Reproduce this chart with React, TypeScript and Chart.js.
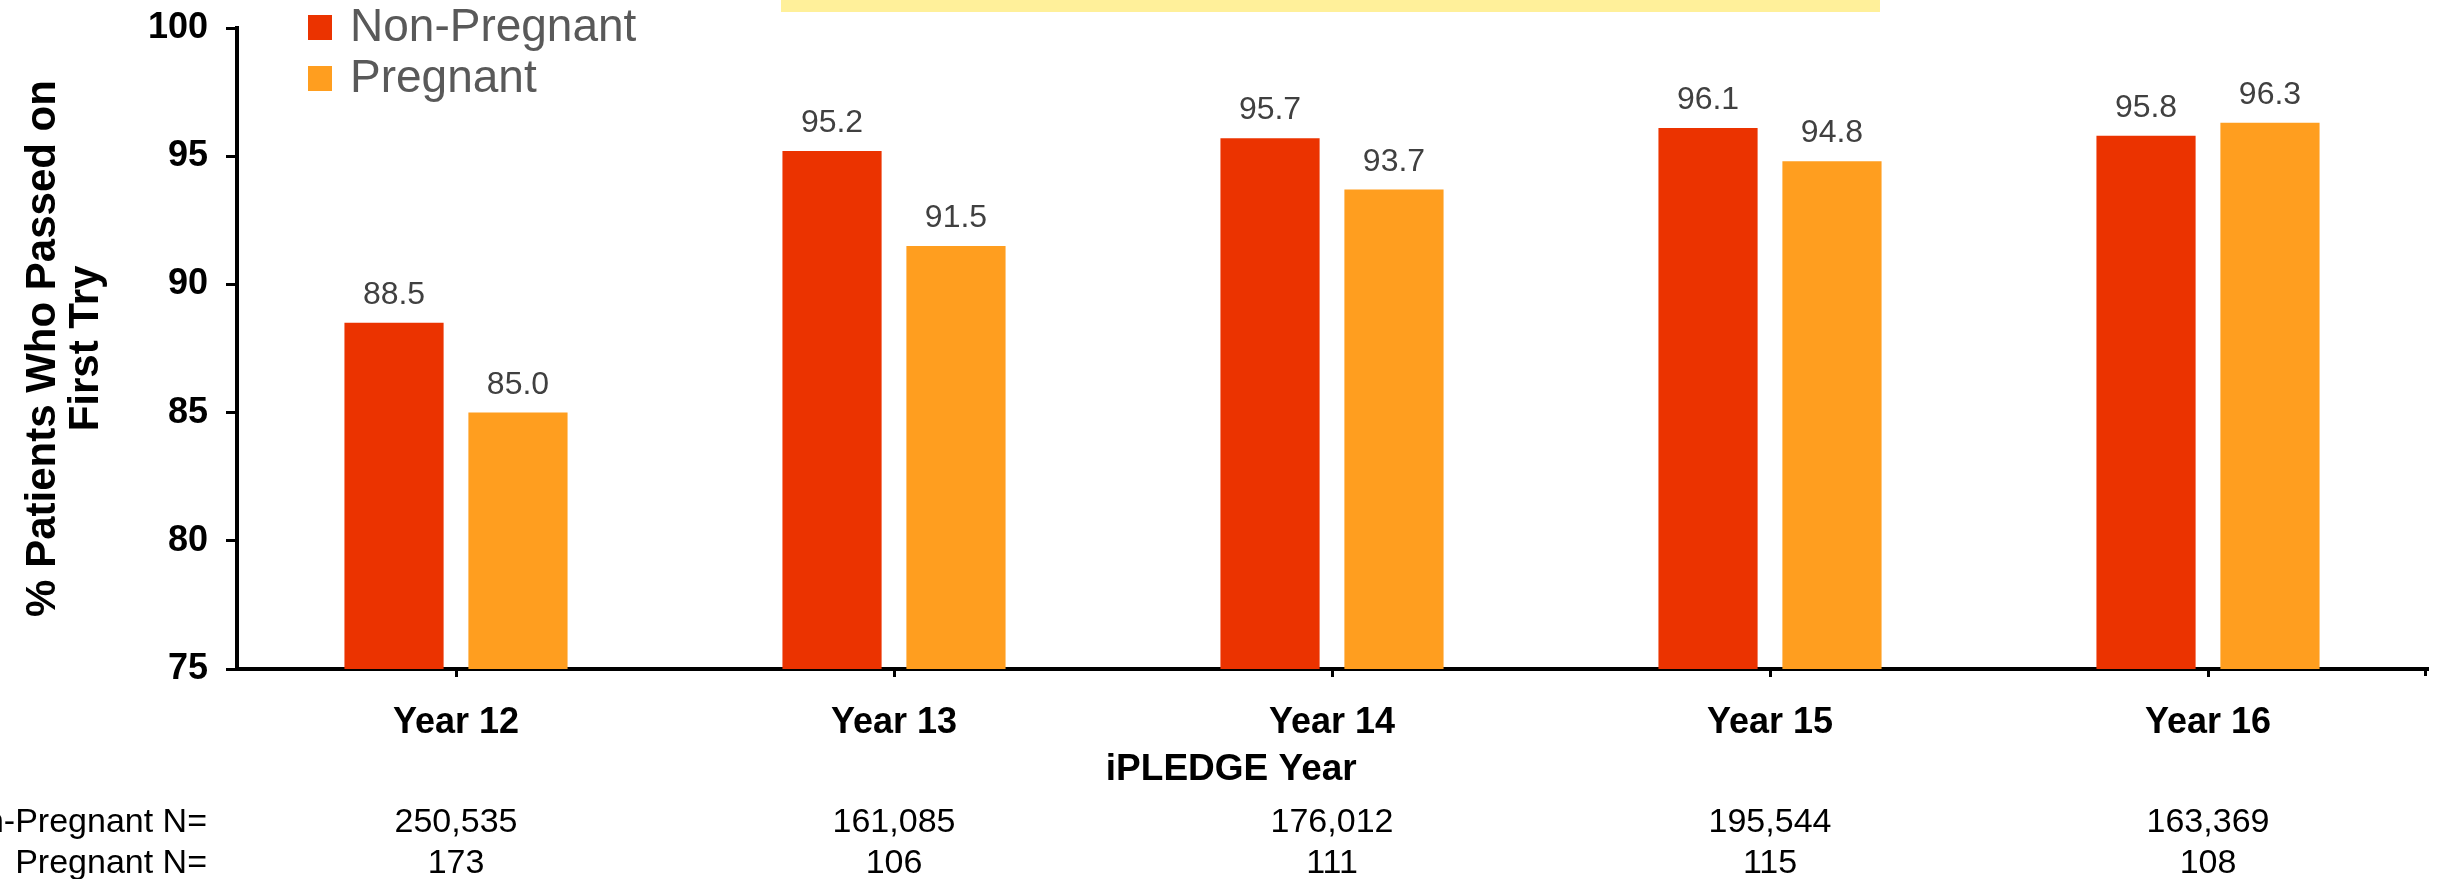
import React, { useEffect, useRef } from "react";
import { Chart, registerables } from "chart.js";

Chart.register(...registerables);

const categories = ["Year 12", "Year 13", "Year 14", "Year 15", "Year 16"];
const nonPregnant = [88.5, 95.2, 95.7, 96.1, 95.8];
const pregnant = [85.0, 91.5, 93.7, 94.8, 96.3];
const nonPregnantN = ["250,535", "161,085", "176,012", "195,544", "163,369"];
const pregnantN = ["173", "106", "111", "115", "108"];
const seriesNames = ["Non-Pregnant", "Pregnant"];
const seriesColors = ["#EB3300", "#FF9E1F"];
const tableLabels = ["Non-Pregnant N=", "Pregnant N="];
const yMin = 75;
const yMax = 100;
const yStep = 5;
const yTitle = ["% Patients Who Passed on", "First Try"];
const xTitle = "iPLEDGE Year";

const FONT = "Arial, 'Liberation Sans', Helvetica, sans-serif";

const decorPlugin = {
  id: "decor",
  afterDatasetsDraw(chart: any) {
    const ctx = chart.ctx;
    ctx.save();
    ctx.font = `32px ${FONT}`;
    ctx.fillStyle = "#404040";
    ctx.textAlign = "center";
    ctx.textBaseline = "alphabetic";
    chart.data.datasets.forEach((ds: any, di: number) => {
      const meta = chart.getDatasetMeta(di);
      meta.data.forEach((bar: any, i: number) => {
        const v = ds.data[i];
        ctx.fillText(Number(v).toFixed(1), bar.x, bar.y - 19);
      });
    });
    ctx.restore();
  },
  afterDraw(chart: any) {
    const ctx = chart.ctx;
    const area = chart.chartArea;
    const xs = chart.scales.x;
    ctx.save();

    // yellow highlight strip at top
    ctx.fillStyle = "#FFF09A";
    ctx.fillRect(781, 0, 1099, 12);

    // legend
    const legendX = 308;
    const rowsY = [27, 78];
    seriesNames.forEach((name, i) => {
      ctx.fillStyle = seriesColors[i];
      ctx.fillRect(legendX, rowsY[i] - 12, 24, 25);
      ctx.fillStyle = "#595959";
      ctx.font = `46px ${FONT}`;
      ctx.textAlign = "left";
      ctx.textBaseline = "middle";
      ctx.fillText(name, legendX + 42, rowsY[i] + 1);
    });

    // y axis title
    ctx.save();
    ctx.translate(0, (area.top + area.bottom) / 2);
    ctx.rotate(-Math.PI / 2);
    ctx.fillStyle = "#000";
    ctx.font = `bold 42px ${FONT}`;
    ctx.textAlign = "center";
    ctx.textBaseline = "middle";
    ctx.fillText(yTitle[0], 0, 43);
    ctx.fillText(yTitle[1], 0, 86);
    ctx.restore();

    // x axis title
    ctx.fillStyle = "#000";
    ctx.font = `bold 37px ${FONT}`;
    ctx.textAlign = "center";
    ctx.textBaseline = "middle";
    ctx.fillText(xTitle, area.left + (area.right - area.left) * 0.454, 770);

    // right end tick on x axis
    ctx.fillStyle = "#000";
    ctx.fillRect(area.right - 3, area.bottom, 3, 7);

    // N table
    ctx.font = `34px ${FONT}`;
    ctx.fillStyle = "#000";
    ctx.textBaseline = "middle";
    const tableRows = [nonPregnantN, pregnantN];
    const tableY = [823, 864];
    tableRows.forEach((row, r) => {
      ctx.textAlign = "right";
      ctx.fillText(tableLabels[r], 207, tableY[r]);
      ctx.textAlign = "center";
      row.forEach((txt, i) => {
        ctx.fillText(txt, xs.getPixelForValue(i), tableY[r]);
      });
    });

    ctx.restore();
  },
};

function zeroPadding(scale: any) {
  scale.paddingTop = 0;
  scale.paddingBottom = 0;
  scale.paddingLeft = 0;
  scale.paddingRight = 0;
}

export default function App() {
  const ref = useRef<HTMLCanvasElement | null>(null);

  useEffect(() => {
    document.body.style.margin = "0";
    document.body.style.overflow = "hidden";
    const canvas = ref.current;
    if (!canvas) return;
    const chart = new Chart(canvas, {
      type: "bar",
      data: {
        labels: categories,
        datasets: [
          {
            label: seriesNames[0],
            data: nonPregnant,
            backgroundColor: seriesColors[0],
            borderWidth: 0,
            categoryPercentage: 0.566,
            barPercentage: 0.8,
          },
          {
            label: seriesNames[1],
            data: pregnant,
            backgroundColor: seriesColors[1],
            borderWidth: 0,
            categoryPercentage: 0.566,
            barPercentage: 0.8,
          },
        ],
      },
      options: {
        responsive: false,
        animation: false,
        devicePixelRatio: 1,
        layout: { autoPadding: false, padding: { top: 28, right: 11, left: 0, bottom: 0 } },
        plugins: {
          legend: { display: false },
          tooltip: { enabled: false },
          title: { display: false },
        },
        scales: {
          x: {
            offset: true,
            grid: {
              display: true,
              drawOnChartArea: false,
              drawTicks: true,
              tickLength: 8,
              offset: false,
              color: "#000",
              lineWidth: 3,
            },
            border: { display: true, color: "#000", width: 4 },
            ticks: {
              color: "#000",
              font: { family: FONT, size: 36, weight: "bold" },
              padding: 24,
              maxRotation: 0,
            },
            afterFit(scale: any) {
              scale.height = 210;
              zeroPadding(scale);
            },
          },
          y: {
            min: yMin,
            max: yMax,
            ticks: {
              stepSize: yStep,
              color: "#000",
              font: { family: FONT, size: 36, weight: "bold" },
              padding: 18,
            },
            grid: {
              display: true,
              drawOnChartArea: false,
              drawTicks: true,
              tickLength: 11,
              color: "#000",
              lineWidth: 3,
            },
            border: { display: true, color: "#000", width: 4 },
            afterFit(scale: any) {
              scale.width = 237;
              zeroPadding(scale);
            },
          },
        },
      },
      plugins: [decorPlugin],
    });
    return () => chart.destroy();
  }, []);

  return (
    <div style={{ width: 2438, height: 879, background: "#fff" }}>
      <canvas ref={ref} width={2438} height={879} style={{ width: 2438, height: 879, display: "block" }} />
    </div>
  );
}
